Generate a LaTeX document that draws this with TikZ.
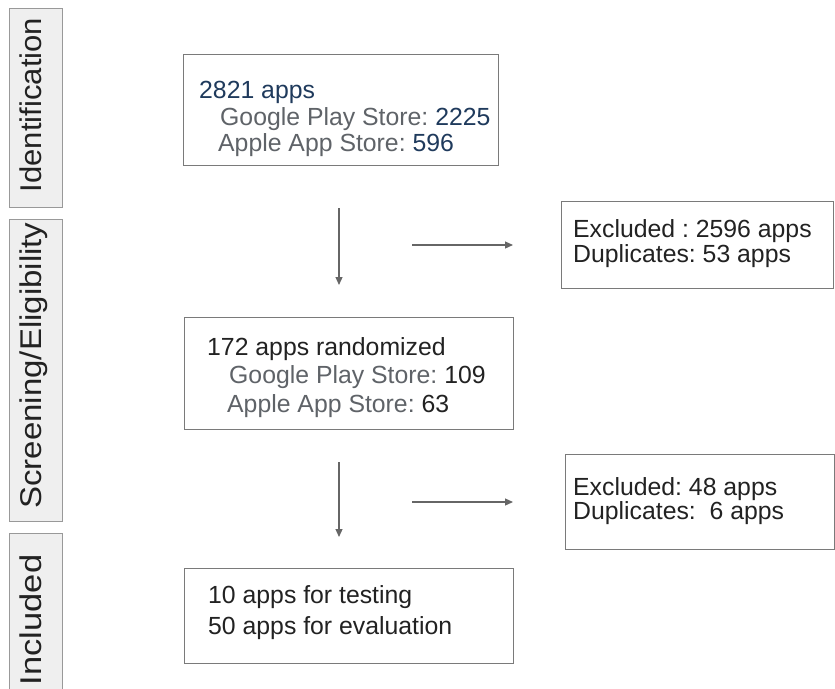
\documentclass[tikz,border=0pt]{standalone}
\usepackage{fontspec}
\setmainfont{Liberation Sans}
\usetikzlibrary{arrows.meta}
\frenchspacing
\definecolor{navy}{HTML}{1F3A5C}
\definecolor{storegray}{HTML}{5F6368}
\definecolor{txtblack}{HTML}{222222}
\definecolor{boxline}{HTML}{7A7A7A}
\definecolor{sideline}{HTML}{999999}
\definecolor{sidefill}{HTML}{EFEFEF}
\definecolor{arrowgray}{HTML}{666666}
\tikzset{
  x=1pt, y=1pt,
  mainbox/.style={draw=boxline, line width=1.2pt, fill=white, rectangle, inner sep=0pt, anchor=north west},
  sidebox/.style={draw=sideline, line width=1.1pt, fill=sidefill, rectangle, inner sep=0pt, anchor=north west},
  txt/.style={anchor=base west, inner sep=0pt, text=txtblack, font=\fontsize{24.8}{28}\selectfont},
  sidetxt/.style={anchor=base, inner sep=0pt, rotate=90, text=txtblack, font=\fontsize{30}{34}\selectfont},
  flow/.style={draw=arrowgray, line width=1.2pt, -{Triangle[length=8pt,width=7pt]}}
}
\begin{document}
\begin{tikzpicture}
\useasboundingbox (0,0) rectangle (835,-688);
% side boxes
\node[sidebox, minimum width=53pt, minimum height=199pt] (sid) at (9,-8) {};
\node[sidebox, minimum width=53pt, minimum height=302pt] (sscr) at (9,-219) {};
\node[sidebox, minimum width=53pt, minimum height=160pt] (sinc) at (9,-533) {};
\node[sidetxt] (tid) at (41,-105) {\scalebox{1.035}[1]{Identification}};
\node[sidetxt] (tscr) at (41,-365.5) {\scalebox{1.1}[1]{Screening/Eligibility}};
\node[sidetxt] (tinc) at (41,-620) {\scalebox{1.15}[1]{Included}};
% main boxes
\node[mainbox, minimum width=315pt, minimum height=111pt] (b1) at (183,-54) {};
\node[mainbox, minimum width=272pt, minimum height=87pt] (b2) at (561,-201) {};
\node[mainbox, minimum width=329pt, minimum height=112pt] (b3) at (184,-317) {};
\node[mainbox, minimum width=269pt, minimum height=95pt] (b4) at (565,-454) {};
\node[mainbox, minimum width=329pt, minimum height=95pt] (b5) at (184,-568) {};
% texts
\node[txt, text=navy] (t11) at (199,-98) {2821 apps};
\node[txt] (t12) at (220,-125) {\textcolor{storegray}{Google Play Store:} \textcolor{navy}{2225}};
\node[txt] (t13) at (218,-151) {\textcolor{storegray}{Apple App Store:} \textcolor{navy}{596}};
\node[txt] (t21) at (573,-237) {Excluded : 2596 apps};
\node[txt] (t22) at (573,-262) {Duplicates: 53 apps};
\node[txt] (t31) at (207,-355) {172 apps randomized};
\node[txt] (t32) at (229,-383) {\textcolor{storegray}{Google Play Store:} 109};
\node[txt] (t33) at (227,-412) {\textcolor{storegray}{Apple App Store:} 63};
\node[txt] (t41) at (573,-495) {Excluded: 48 apps};
\node[txt] (t42) at (573,-519) {Duplicates:\ \ 6 apps};
\node[txt] (t51) at (208,-603) {10 apps for testing};
\node[txt] (t52) at (208,-634) {50 apps for evaluation};
% arrows
\coordinate (d1s) at (339,-208);
\coordinate (d1e) at (339,-285);
\coordinate (r1s) at (412,-245);
\coordinate (r1e) at (513,-245);
\coordinate (d2s) at (339,-462);
\coordinate (d2e) at (339,-537);
\coordinate (r2s) at (412,-502);
\coordinate (r2e) at (513,-502);
\draw[flow] (d1s) -- (d1e);
\draw[flow] (r1s) -- (r1e);
\draw[flow] (d2s) -- (d2e);
\draw[flow] (r2s) -- (r2e);
\end{tikzpicture}
\end{document}
